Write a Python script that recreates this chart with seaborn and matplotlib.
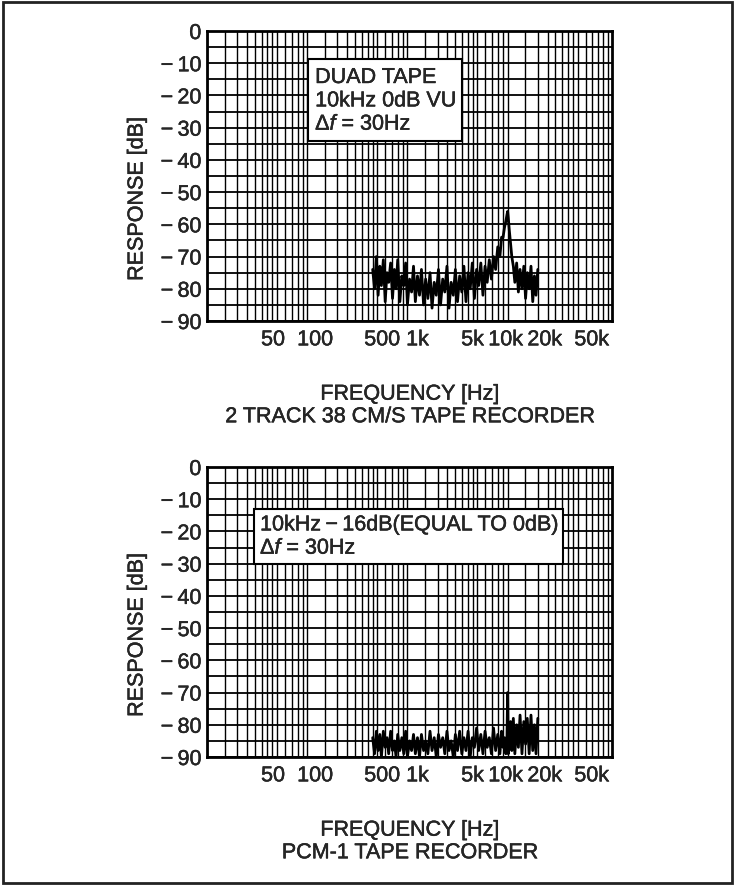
import numpy as np
import pandas as pd
import seaborn as sns
import matplotlib
matplotlib.use("Agg")
import matplotlib.pyplot as plt
import matplotlib.patheffects as pe
from matplotlib.patches import Rectangle
from matplotlib.ticker import LogLocator, FixedLocator, NullFormatter

# Data: spectrum of a 10 kHz tone
freq_tape = [450, 470, 490, 510, 530, 550, 575, 600, 625, 650,
             680, 710, 740, 770, 800, 840, 880, 920, 960, 1000,
             1050, 1100, 1150, 1200, 1260, 1320, 1380, 1450, 1520, 1600,
             1680, 1760, 1850, 1940, 2040, 2140, 2250, 2360, 2480, 2600,
             2730, 2870, 3010, 3160, 3320, 3490, 3660, 3840, 4030, 4230,
             4440, 4660, 4900, 5140, 5400, 5670, 5950, 6250, 6560, 6890,
             7230, 7590, 7970, 8370, 8700, 9000, 9300, 9600, 9850, 10000,
             10150, 10400, 10700, 11000, 11400, 11800, 12300, 12800, 13300, 13900,
             14500, 15100, 15700, 16400, 17100, 17800, 18500, 19200, 20000]
level_tape = [-74, -80, -70, -82, -73, -79, -71, -84, -75, -78,
              -72, -83, -74, -80, -71, -84, -76, -79, -72, -85,
              -77, -81, -73, -84, -76, -82, -74, -85, -77, -83,
              -75, -86, -78, -82, -74, -85, -77, -81, -73, -86,
              -78, -82, -74, -84, -76, -81, -73, -84, -75, -80,
              -72, -83, -74, -79, -72, -82, -73, -78, -71, -77,
              -70, -74, -67, -70, -64, -64, -61, -59, -57, -56,
              -58, -62, -66, -70, -73, -78, -72, -81, -74, -80,
              -73, -83, -75, -80, -73, -84, -76, -82, -74]

freq_pcm = [450, 470, 490, 510, 530, 550, 575, 600, 625, 650,
            680, 710, 740, 770, 800, 840, 880, 920, 960, 1000,
            1050, 1100, 1150, 1200, 1260, 1320, 1380, 1450, 1520, 1600,
            1680, 1760, 1850, 1940, 2040, 2140, 2250, 2360, 2480, 2600,
            2730, 2870, 3010, 3160, 3320, 3490, 3660, 3840, 4030, 4230,
            4440, 4660, 4900, 5140, 5400, 5670, 5950, 6250, 6560, 6890,
            7230, 7590, 7970, 8370, 8700, 9000, 9300, 9600, 9850, 10000,
            10150, 10700, 11000, 11400, 11800, 12300, 12800, 13300, 13900, 14500,
            15100, 15700, 16400, 17100, 17800, 18500, 19200, 20000]
level_pcm = [-84, -89, -82, -88, -83, -90, -82, -87, -84, -89,
             -82, -88, -85, -90, -83, -88, -84, -89, -82, -90,
             -85, -88, -83, -89, -84, -90, -83, -88, -85, -89,
             -82, -88, -84, -90, -83, -87, -84, -89, -82, -88,
             -85, -90, -83, -88, -82, -89, -84, -88, -82, -90,
             -84, -87, -81, -88, -83, -89, -82, -87, -84, -89,
             -81, -88, -83, -89, -82, -87, -84, -89, -84, -70,
             -89, -79, -88, -78, -89, -80, -87, -77, -89, -79,
             -86, -78, -89, -77, -88, -80, -89, -78]

xtick_vals = [50, 100, 500, 1000, 5000, 10000, 20000, 50000]
xtick_text = ["50", "100", "500", "1k", "5k", "10k", "20k", "50k"]
ytick_vals = [0, -10, -20, -30, -40, -50, -60, -70, -80, -90]

panels = [
    dict(f=freq_tape, l=level_tape,
         note="DUAD TAPE\n10kHz 0dB VU\n$\\Delta f$ = 30Hz",
         sub="2 TRACK 38 CM/S TAPE RECORDER"),
    dict(f=freq_pcm, l=level_pcm,
         note="10kHz\u2009\u2212\u200916dB(EQUAL TO 0dB)\n$\\Delta f$ = 30Hz",
         sub="PCM-1 TAPE RECORDER"),
]

sns.set_style("white")
plt.rcParams["font.family"] = ["Liberation Sans", "DejaVu Sans"]
plt.rcParams["mathtext.fontset"] = "custom"
plt.rcParams["mathtext.rm"] = "Liberation Sans"
plt.rcParams["mathtext.it"] = "Liberation Sans:italic"
plt.rcParams["font.size"] = 15.5

ink = [pe.withStroke(linewidth=0.3, foreground="black")]

fig = plt.figure(figsize=(7.35, 8.87), dpi=100)
ax_top = fig.add_axes([207/735, 1-322/887, 405/735, 290/887])
ax_bot = fig.add_axes([207/735, 1-758/887, 405/735, 290/887])

# box placement (axes fraction) for each note
note_box = [(0.249, 0.621, 0.380, 0.283), (0.116, 0.666, 0.763, 0.190)]
note_txt = [(0.267, 0.759), (0.131, 0.760)]
# label nudges in px so the text does not collide (as in the print)
nudge = [-4, 8, 5, 10, -5, -2, 7, 14]

for ax, p, box, tpos in zip([ax_top, ax_bot], panels, note_box, note_txt):
    df = pd.DataFrame({"freq": p["f"], "level": p["l"]})
    sns.lineplot(data=df, x="freq", y="level", ax=ax, color="black",
                 lw=2.0, estimator=None, sort=False, zorder=3)
    ax.set_xscale("log")
    ax.set_xlim(10, 110000)
    ax.set_ylim(-90, 0)

    ax.xaxis.set_major_locator(FixedLocator(xtick_vals))
    ax.set_xticklabels(xtick_text)
    ax.xaxis.set_minor_locator(LogLocator(base=10, subs=[1, 1.5, 2, 2.5, 3, 3.5, 4, 4.5, 5, 6, 7, 8, 9], numticks=50))
    ax.xaxis.set_minor_formatter(NullFormatter())
    ax.set_yticks(ytick_vals)
    ax.set_yticklabels([("\u2212\u2009" + str(-v)) if v else "0" for v in ytick_vals])
    ax.set_yticks(np.arange(-85, 0, 10), minor=True)

    ax.grid(which="both", axis="x", color="black", lw=1.0)
    ax.grid(which="both", axis="y", color="black", lw=1.3)
    ax.set_axisbelow(True)
    ax.tick_params(which="both", length=0)
    ax.tick_params(axis="x", pad=6, labelsize=15.5)
    ax.tick_params(axis="y", pad=4, labelsize=15.5)
    for s in ax.spines.values():
        s.set_color("black")
        s.set_linewidth(2)

    for lab, dx in zip(ax.get_xticklabels(), nudge):
        lab.set_transform(lab.get_transform() +
                          matplotlib.transforms.ScaledTranslation(dx/100, 0, fig.dpi_scale_trans))
        lab.set_path_effects(ink)
    for lab in ax.get_yticklabels():
        lab.set_path_effects(ink)

    ax.set_ylabel("RESPONSE [dB]", fontsize=15.5, path_effects=ink)
    ax.yaxis.set_label_coords(-0.147, 0.42)
    ax.set_xlabel("FREQUENCY [Hz]\n" + p["sub"], fontsize=15.5, labelpad=24,
                  linespacing=1.1, path_effects=ink)

    ax.add_patch(Rectangle(box[:2], box[2], box[3], transform=ax.transAxes,
                           facecolor="white", edgecolor="black", lw=1.5, zorder=4))
    ax.text(tpos[0], tpos[1], p["note"], transform=ax.transAxes, va="center",
            ha="left", fontsize=15.5, zorder=5, linespacing=1.15, path_effects=ink)

fig.patches.append(Rectangle((3/735, 3/887), 729/735, 881/887, transform=fig.transFigure,
                             fill=False, edgecolor="#222222", lw=2))

fig.savefig("out.png", dpi=100)
